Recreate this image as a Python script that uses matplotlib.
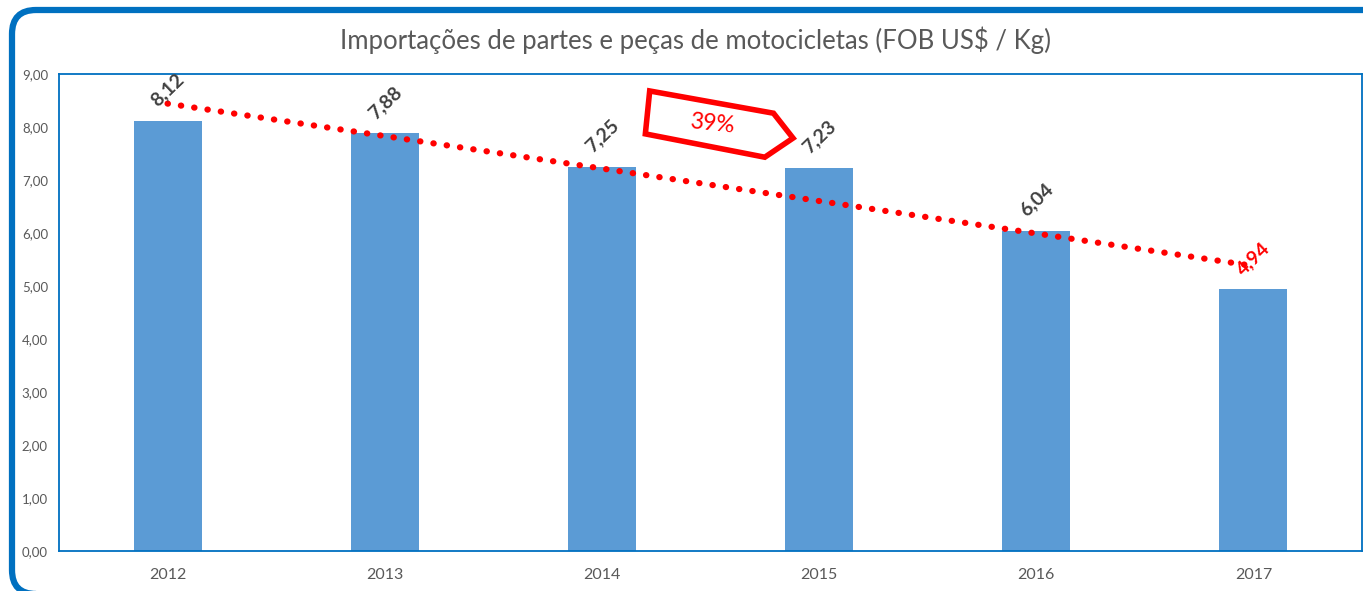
# Importações de partes e peças de motocicletas - bar chart with trend line
import matplotlib.pyplot as plt
import numpy as np
from matplotlib.patches import FancyBboxPatch, Polygon

# Data
years = ['2012', '2013', '2014', '2015', '2016', '2017']
values = [8.12, 7.88, 7.25, 7.23, 6.04, 4.94]
label_colors = ['#404040', '#404040', '#404040', '#404040', '#404040', '#FF0000']
title = 'Importações de partes e peças de motocicletas (FOB US$ / Kg)'
yticks = [0, 1, 2, 3, 4, 5, 6, 7, 8, 9]
callout_text = '39%'

plt.rcParams['font.family'] = ['Lato', 'DejaVu Sans']

fig = plt.figure(figsize=(13.63, 5.91), dpi=100)

# blue rounded frame (runs off the right and bottom edges)
frame = FancyBboxPatch((12, -3), 1400, 584, boxstyle='round,pad=0,rounding_size=24',
                       transform=None, fill=False, edgecolor='#0070C0', linewidth=4.5)
fig.patches.append(frame)

ax = fig.add_axes([59 / 1363, 40 / 591, 1303 / 1363, 477 / 591])

x = np.arange(len(years))
ax.bar(x, values, width=0.313, color='#5B9BD5', zorder=2)

# linear trend line
coef = np.polyfit(x, values, 1)
ax.plot(x, np.polyval(coef, x), color='#FF0000', linestyle=(0, (0.05, 2.1)),
        linewidth=4.5, dash_capstyle='round', zorder=3)

# value labels
for xi, v, c in zip(x, values, label_colors):
    ax.annotate(f'{v:.2f}'.replace('.', ','), (xi, v), xytext=(0, 31),
                textcoords='offset pixels', ha='center', va='center',
                rotation=44, fontsize=14, fontweight='bold', color=c, zorder=4)

# callout shape with 39%
shape = [(2.22, 8.68), (2.79, 8.26), (2.88, 7.79), (2.75, 7.43), (2.20, 7.87)]
ax.add_patch(Polygon(shape, closed=True, fill=False, edgecolor='#FF0000',
                     linewidth=4, joinstyle='miter', zorder=5))
ax.text(2.505, 8.05, callout_text, color='#FF0000', fontsize=16.5,
        ha='center', va='center', rotation=-6, zorder=5)

ax.set_xlim(-0.5, 5.5)
ax.set_ylim(0, 9)
ax.set_xticks(x)
ax.set_xticklabels(years, fontsize=11.5, color='#595959')
ax.set_yticks(yticks)
ax.set_yticklabels([f'{t:.2f}'.replace('.', ',') for t in yticks], fontsize=9.5, color='#595959')
ax.tick_params(length=0, pad=12)
ax.tick_params(axis='y', pad=8)
for s in ax.spines.values():
    s.set_color('#0070C0')
    s.set_linewidth(1.3)

fig.text(0.51, 0.932, title, ha='center', va='center', fontsize=18.5, color='#595959')

fig.savefig('out.png', dpi=100)
